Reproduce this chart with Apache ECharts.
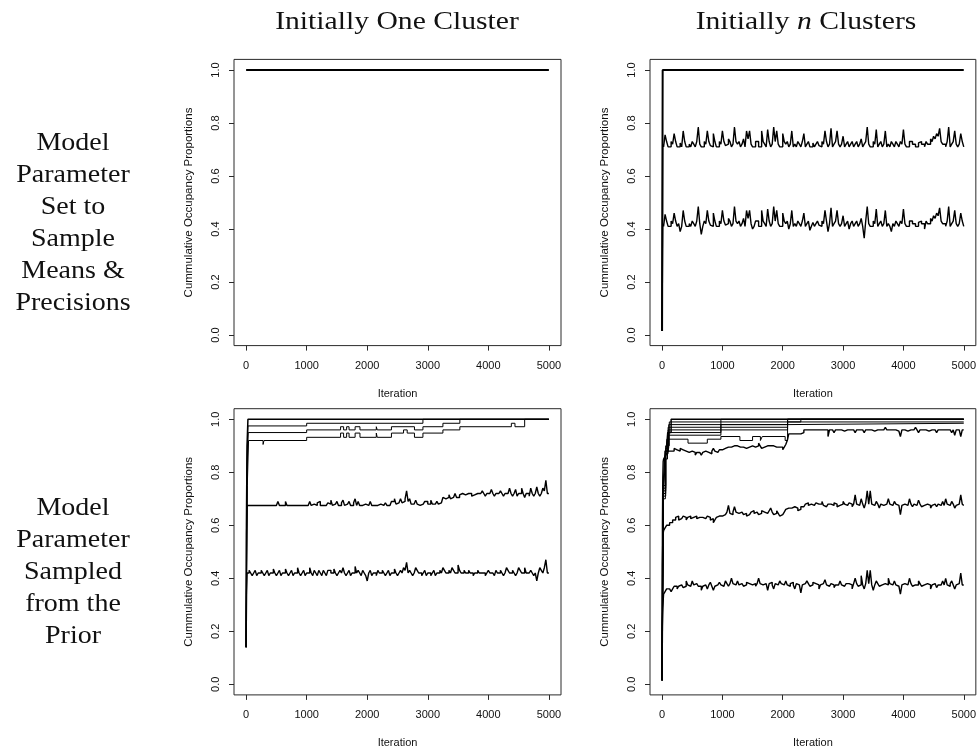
<!DOCTYPE html>
<html><head><meta charset="utf-8">
<script src="https://cdn.jsdelivr.net/npm/echarts@6/dist/echarts.min.js"></script>
<style>html,body{margin:0;padding:0;background:#fff}#c{width:979px;height:753px}</style>
</head><body><div id="c"></div>
<script>
// ---------- text ----------
const colTitles = ['Initially One Cluster', 'Initially {it|n} Clusters'];
const rowLabels = ['Model\nParameter\nSet to\nSample\nMeans &\nPrecisions',
                   'Model\nParameter\nSampled\nfrom the\nPrior'];
const xName = 'Iteration';
const yName = 'Cummulative Occupancy Proportions';
const xTicks = [0, 1000, 2000, 3000, 4000, 5000];
const yTicks = [0, 0.2, 0.4, 0.6, 0.8, 1.0];

// ---------- data ----------
// noisy traces: readings every 25 iterations (25..5000), in percent
const SAMPLE_STEP = 25;

// Top-left: initially one cluster, parameters at sample means
const tlOne = [[0, 1.0], [5000, 1.0]];

// Top-right: initially n clusters, parameters at sample means
const trOne = [[0, 0.015], [10, 1.0], [5000, 1.0]];
const trEarly72 = [[0, 0.015], [10, 0.72]];
const tr72 = [71,75.5,73,71,71,73,72,76,73,71,71,72.5,71,77,73,71,71,72,71,73,
 72,71,73,78.5,72,71,71,73,72,77,73,71.5,71,76,73,71,71,73,72,77,
 73,71.5,72,74,73,71,72,78.5,73,72,73,71,72,74,71,77,74,77,72,71,
 71,73,73,71,71,77,73,72,71,77.5,73,71,72,78.5,73,77,72,71,71,76,
 73,72,73,71,72,77,71,72,71,73,72,71,73,76,71,72,73,71,71,72.5,
 71,72,73,71.5,71,73,72,77,73,71,72,78,71,72,73,77,72,71,72,75,
 71,72,73,71,72,73,71,72,73,71,72,74,71,72,73,78.5,72,71,71,73,
 72,77.5,71,72,73,71,72,77,71,72,71,73,72,71,73,72,71,73,72,77.5,
 72,71,71,73,73,72,72,71,71,72.5,73,72,72,71,73,72,72,74,73,75,
 74,76,75,78,73,72,72,71,73,78.5,71,72,73,77,72,71,72,76,73,71];
const trEarly42 = [[0, 0.015], [10, 0.42]];
const tr42 = [41,45.5,43,41,41,43,42,46,43,41,42,39,41,47,43,41,41,42,41,43,
 42,41,43,48.5,42,38,41,43,42,47,43,41.5,41,46,43,41,41,43,42,47,
 43,41.5,42,44,43,41,42,48.5,43,42,43,41,42,44,41,47,44,47,42,40,
 41,43,43,41,41,47,43,42,41,47.5,43,41,42,48.5,43,47,42,41,41,46,
 43,42,43,40,42,47,41,42,41,43,42,41,43,46,41,42,43,39.5,41,42.5,
 41,42,43,41.5,41,43,42,47,43,39,42,48,41,42,43,47,42,41,42,45,
 41,42,43,40,42,43,41,42,43,41,42,44,41,36.5,43,48.5,42,41,41,43,
 42,47.5,41,42,43,41,42,47,41,42,41,39,42,41,43,42,41,43,42,47.5,
 42,41,41,43,43,42,42,41,41,42.5,43,42,42,40,43,42,42,44,43,45,
 44,46,45,48,43,42,42,41,43,48.5,41,42,43,47,42,41,42,46,43,41];

// Bottom-left: initially one cluster, parameters from prior
const blOne = [[0,0.14],[5,0.6],[15,0.9],[30,1.0],[5000,1.0]];
const blStepA = [[0,0.14],[15,0.85],[30,0.975],[1000,0.985],[2920,1.0],[5000,1.0]];
const blStepB = [[0,0.14],[15,0.8],[35,0.95],[1000,0.96],[1560,0.972],[1610,0.96],[1660,0.972],[1700,0.96],
 [1800,0.972],[1880,0.96],[2150,0.972],[2165,0.96],[2400,0.972],[2780,0.96],[2920,0.972],[3250,0.985],[3530,1.0],[5000,1.0]];
const blStepC = [[0,0.14],[20,0.75],[40,0.92],[280,0.905],[295,0.92],[1000,0.932],[1560,0.948],[1610,0.932],
 [1660,0.948],[1700,0.932],[1800,0.948],[1880,0.932],[2150,0.948],[2165,0.932],[2400,0.948],[2600,0.96],
 [2660,0.948],[2780,0.932],[2920,0.948],[3250,0.96],[3530,0.972],[4380,0.985],[4440,0.972],[4600,1.0],[5000,1.0]];
const blEarly72 = [[0,0.14],[8,0.57],[16,0.675]];
const bl72 = [67.5,67.5,67.5,67.5,67.5,67.5,67.5,67.5,67.5,67.5,67.5,67.5,67.5,67.5,67.5,67.5,67.5,67.5,67.5,67.5,
 69,67.5,67.5,67.5,67.5,69,67.5,67.5,67.5,67.5,67.5,67.5,67.5,67.5,67.5,67.5,67.5,67.5,67.5,67.5,
 67.5,69,67.5,68,67.5,67.5,68.5,69,67.5,67.5,67.5,67.5,67.5,68.5,68,69.5,67.5,68,68.5,69,
 67.5,67.5,68.5,69.5,67.5,68,68,69,67.5,67.5,68.5,70,67.5,69,67.5,67.5,67.5,68,67.5,67.5,
 67.5,69,67.5,67.5,67.5,67.5,67.5,68,67.5,67.5,67.5,68.5,67.5,67.5,68,69,69,70,68,68.5,
 69,70,68.5,69,70,73,69,70,68,68,68,69.5,68,67.5,68,68,68,69,69,68,
 68,69.5,68,68,68.5,69,68,68.5,69,70.5,70,70,70.5,71.5,70,70.5,71,72,70.5,70.5,
 71.5,72,72,71.5,72,72,72,72,71,71.5,72,72,71.5,72,72,73,72,71,72,72,
 72,73.5,72,71,72,72,72,73,72,71,72,72,72,74,72,71,72,73.5,71,72,
 72,74,72,70.5,72,72,71,74,72,71,72,74.5,72,71,72,74,73,77,72,72];
const blEarly42 = [[0,0.14],[8,0.35],[16,0.42]];
const bl42 = [42,43,42,41,42,43,41,42,42,43,42,41,42,43,41,42,42,43.5,42,41,
 42,43,41,42,42,43.5,42,41,42,43,41,42,42,44,42,41,42,43,41,42,
 42,44,42,41,43,42,41,43,42,41,43,42,41,43,43,42,42,43.5,42,41,
 42,43,42,44,42,41,42,43,41,42,42,44.5,42,43,42,41,43,42,41,39,
 42,43,41,42,42,41,43,42,42,43,42,41,42,43,41,42,42,43.5,42,41,
 42,43,42,44,43,46,42,43,42,41,42,44,43,42,42,41,42,43,41,42,
 42,41,42,43,41,42,42,43,42,44,43,42,42,43,42,44,43,42,42,45,
 43,42,42,43,42,42,43,42,42,41,42,42,43,42,42,42,42,41,42,43,
 42,42,42,41,43,42,42,43,42,41,42,44,43,42,42,43,42,41,42,44,
 43,42,42,44,42,42,42,43,42,41,42,39,42,44,43,42,44,47,42,42];

// Bottom-right: initially n clusters, parameters from prior
const brOne = [[0,0.015],[20,0.75],[50,0.88],[100,0.95],[150,1.0],[5000,1.0]];
const brStep1 = [[0,0.015],[20,0.75],[60,0.9],[120,0.99],[2300,1.0],[5000,1.0]];
const brStep2 = [[0,0.015],[20,0.74],[60,0.89],[110,0.98],[2080,0.99],[5000,0.99]];
const brStep3 = [[0,0.015],[20,0.73],[60,0.88],[100,0.97],[975,0.98],[2080,0.985],[5000,0.985]];
const brStep4 = [[0,0.015],[20,0.72],[60,0.87],[100,0.96],[975,0.97],[2080,1.0],[5000,1.0]];
const brStep5 = [[0,0.015],[20,0.71],[60,0.86],[90,0.95],[975,0.96],[2080,1.0],[5000,1.0]];
const brStep6 = [[0,0.015],[20,0.70],[55,0.85],[90,0.94],[975,1.0],[5000,1.0]];
const brWavy = [[0,0.015],[20,0.69],[50,0.84],[80,0.925],[430,0.91],[750,0.925],[975,0.935],[1290,0.92],
 [1500,0.935],[1630,0.92],[1660,0.935],[2040,0.92],[2080,1.0],[5000,1.0]];
const brEarly96 = [[0,0.015],[6,0.6],[12,0.78],[18,0.84]];
const br96 = [85,86,87,88,88,87.5,88,89,88.5,88,88,89,88.5,88,88,87.5,87.5,88,88,87.5,
 87.5,86.5,87.5,87.5,87,86.5,87.5,88,88,87.5,87.5,87,88,89,88,87.5,88,88.5,88.5,89,
 89,88.5,89.5,90,89.5,89,90,90.5,90,89.5,89.5,90,89.5,89,89,88.5,89.5,90,90,89.5,
 89.5,90,90,91,90,89,89.5,90,90,89.5,90,90.5,90,89.5,89.5,89,89.5,90,89.5,88.5,
 89.5,90.5,92,94.5,94.5,94,94.5,95,94.5,94,94.5,95,95,96,96,96,96,96,96,96,
 96,96,96,96,96,95.5,96,96,96,93.5,96,96,96,95,96,96,96,96,96,95.5,
 96,96,96,96,96,96,96,95,96,96,96,96,96,95,96,96,96,96,96,95.5,
 96,96,96,96,96,96,96,97,96,96,96,96,96,96,96,95.5,96,93.5,96,96,
 96,95.5,96,96,96,96,96,97,96,95,96,96,96,96,96,95.5,96,96,96,96,
 96,95,96,96,96,96,96,96,96,96,96,95,96,94,96,96,96,93.5,96,96];
const brEarly67 = [[0,0.015],[5,0.45],[12,0.55],[20,0.57]];
const br67 = [58,59,60,60,61,61,62,62,63,63.5,62,62.5,63,63.5,63,62,63,63.5,62.5,63,
 63,63.5,62.5,63,63.5,63,63,62.5,63,63.5,63,62,62.5,61,62,63,63.5,64,63.5,63,
 64,64.5,65,67.5,64.5,64,65,67,65,64.5,64.5,65,65,64,64.5,63.5,64,64.5,65,65.5,
 64.5,65,65,64,64.5,65.5,65,64.5,64.5,65,65.5,66.5,65,64,64.5,65.5,64.5,63.5,64,64.5,
 65,66,66.5,67,66.5,66,67,67.5,66.5,65.5,66,67,67,67.5,68,68.5,67.5,68,68,67.5,
 67.5,68.5,68,67.5,68,69,67.5,67,67.5,68,68,67.5,67.5,68.5,68,67,67.5,68,68,69,
 68,67.5,68,68.5,68,67,68,71.5,68,67.5,68,70,68,66.5,68.5,73,68,73,68,67.5,
 68,69,68,66.5,68,67.5,68,68,67.5,70,68,67.5,68,69,68,67.5,67.5,64,67.5,68,
 68,67.5,68,70,68,67,68,67.5,67.5,69.5,68,67,67.5,68,68,67.5,67.5,66.5,67.5,68,
 67.5,67,68,67.5,68,69,67.5,70,68,67.5,67.5,69,68,66.5,67.5,68,68,71.5,68,67.5];
const brEarly37 = [[0,0.015],[5,0.22],[12,0.29],[20,0.32]];
const br37 = [34,35,36,36,36,35,36,37,37,36,37,37.5,37,36.5,37,39,37.5,37,37,39,
 37.5,38,37.5,37,37,35.5,37,37.5,37.5,36,37.5,38.5,37,35.5,37,37.5,37.5,38.5,37.5,37,
 37.5,39,38,37,38,40,38,37.5,38,39,37.5,38,38,37,37.5,38.5,38,37.5,37.5,38,
 38,37,38,40,38,37.5,37.5,38,37.5,35.5,38,38.5,37.5,36,38,37.5,38,39,38,37.5,
 38,39,37.5,37,38,38.5,37.5,36,38,37.5,37.5,34.5,37.5,38,38,39,38,37,37.5,38.5,
 38,37.5,37.5,36,37.5,38,38,39.5,37.5,37,37.5,38,37.5,36.5,37.5,37.5,38,39,37.5,37,
 37.5,38,38,37.5,37.5,36,38,40,38,37,37.5,41,37.5,36,38,43,38,43,37.5,35.5,
 37.5,39,38,37,37.5,37.5,38,38,37.5,40,38,37.5,37.5,39,37.5,37,37.5,34,37.5,38,
 38,37.5,37.5,40,38,37,37.5,38,37.5,39,38,37,37.5,38,38,37.5,37.5,36,37.5,38,
 38,36.5,37.5,37.5,38,39,37.5,40,37.5,37,38,39,37.5,36,37.5,38,38,42,37.5,37.5];

// ---------- build ----------
function sampled(early, pct) {
  return early.concat(pct.map((v, i) => [(i + 1) * SAMPLE_STEP, v / 100]));
}
const NW = 1.4; // width of the noisy traces
const panels = [
  { rect: { left: 234, top: 59.4 }, lines: [[tlOne, 2]] },
  { rect: { left: 650, top: 59.4 }, lines: [[trOne, 2], [sampled(trEarly72, tr72), NW], [sampled(trEarly42, tr42), NW]] },
  { rect: { left: 234, top: 408.7 }, lines: [[blOne, 1.5], [blStepA, 1], [blStepB, 1], [blStepC, 1],
      [sampled(blEarly72, bl72), NW], [sampled(blEarly42, bl42), NW]] },
  { rect: { left: 650, top: 408.7 }, lines: [[brOne, 1.5], [brStep1, 1], [brStep2, 1], [brStep3, 1], [brStep4, 1],
      [brStep5, 1], [brStep6, 1], [brWavy, 1], [sampled(brEarly96, br96), NW], [sampled(brEarly67, br67), NW],
      [sampled(brEarly37, br37), NW]] }
];
const AX_FONT = 'Liberation Sans, Arial, sans-serif';
const grids = [], xAxes = [], yAxes = [], series = [];
panels.forEach((p, i) => {
  grids.push({ left: p.rect.left, top: p.rect.top, width: 327, height: 286.2, show: true,
    borderColor: '#2a2a2a', borderWidth: 1, backgroundColor: 'transparent', containLabel: false });
  xAxes.push({ type: 'value', gridIndex: i, min: -200, max: 5200,
    axisLine: { show: false, onZero: false }, splitLine: { show: false },
    axisTick: { show: true, customValues: xTicks, length: 5, inside: false, lineStyle: { color: '#2a2a2a', width: 1 } },
    axisLabel: { customValues: xTicks, margin: 14.5, fontSize: 11, color: '#111', fontFamily: AX_FONT,
      formatter: v => String(v) },
    name: xName, nameLocation: 'middle', nameGap: 43, nameMoveOverlap: false,
    nameTextStyle: { fontSize: 11, color: '#111', fontFamily: AX_FONT } });
  yAxes.push({ type: 'value', gridIndex: i, min: -0.04, max: 1.04,
    axisLine: { show: false, onZero: false }, splitLine: { show: false },
    axisTick: { show: true, customValues: yTicks, length: 5, inside: false, lineStyle: { color: '#2a2a2a', width: 1 } },
    axisLabel: { customValues: yTicks, rotate: 90, margin: 13, fontSize: 11, color: '#111', fontFamily: AX_FONT,
      formatter: v => v.toFixed(1) },
    name: yName, nameLocation: 'middle', nameGap: 39, nameRotate: 90, nameMoveOverlap: false,
    nameTextStyle: { fontSize: 11.5, color: '#111', fontFamily: AX_FONT } });
  p.lines.forEach(([data, w]) => {
    series.push({ type: 'line', xAxisIndex: i, yAxisIndex: i, data: data, step: 'end',
      showSymbol: false, symbol: 'none', silent: true,
      lineStyle: { color: '#000', width: w } });
  });
});

const SERIF = 'Liberation Serif, Times New Roman, serif';
const graphic = [
  { type: 'text', x: 397, y: 22, scaleX: 1.14, style: { text: colTitles[0], font: '26px ' + SERIF, fill: '#111',
      align: 'center', verticalAlign: 'middle' } },
  { type: 'text', x: 806, y: 22, scaleX: 1.14, style: { text: colTitles[1], font: '26px ' + SERIF, fill: '#111',
      align: 'center', verticalAlign: 'middle',
      rich: { it: { fontStyle: 'italic', fontSize: 26, fontFamily: SERIF, fill: '#111' } } } },
  { type: 'text', x: 73, y: 223, scaleX: 1.12, style: { text: rowLabels[0], font: '25px ' + SERIF, fill: '#111',
      align: 'center', verticalAlign: 'middle', lineHeight: 32 } },
  { type: 'text', x: 73, y: 572, scaleX: 1.12, style: { text: rowLabels[1], font: '25px ' + SERIF, fill: '#111',
      align: 'center', verticalAlign: 'middle', lineHeight: 32 } }
];

const chart = echarts.init(document.getElementById('c'), null, { renderer: 'canvas' });
chart.setOption({ animation: false, backgroundColor: '#fff', grid: grids, xAxis: xAxes, yAxis: yAxes,
  series: series, graphic: graphic });
</script></body></html>
